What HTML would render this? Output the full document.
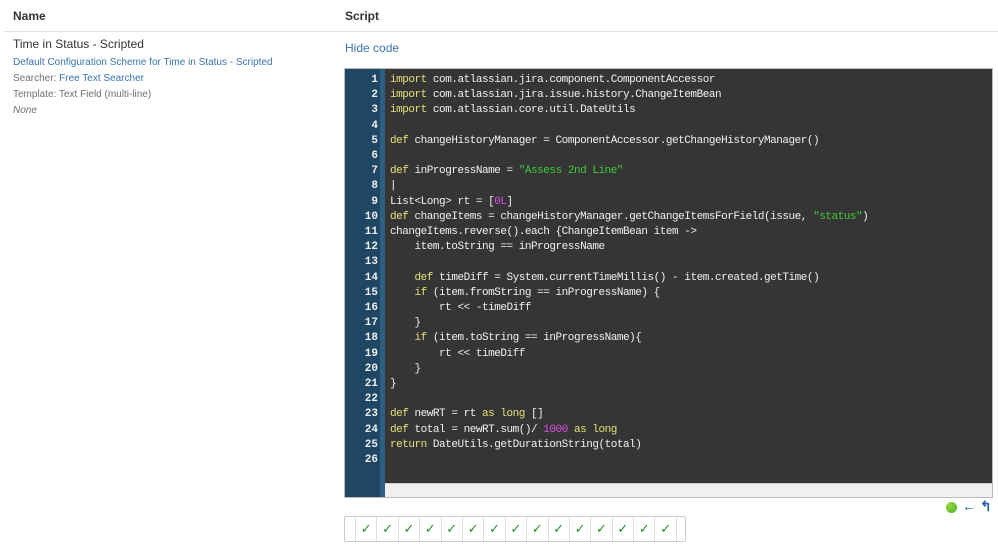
<!DOCTYPE html>
<html><head><style>
body{margin:0;width:998px;height:548px;background:#fff;font-family:"Liberation Sans",Arial,sans-serif;position:relative;overflow:hidden}
.a{position:absolute}
.hd{font-weight:bold;font-size:12px;color:#333;top:9px}
.code{left:344px;top:68px;width:649px;height:430px;background:#353535;border:1px solid #bbb;box-sizing:border-box}
.gut{left:0;top:0;width:35px;height:100%;background:#1f4662}
.gut2{left:35px;top:0;width:5px;height:100%;background:#2e5f80}
pre{margin:0;font-family:"Liberation Mono",monospace;font-size:11px;letter-spacing:-0.47px;line-height:15.2px}
.ln{left:0;top:4px;width:33px;text-align:right;color:#eee;font-weight:bold;letter-spacing:0}
.tx{left:45px;top:4px;color:#f0f0f0}
.k{color:#e4e07a}.s{color:#3ccd3c}.n{color:#e04fe0}
.sb{left:40px;bottom:0;right:0;height:13px;background:#f0f0f0;border-top:1px solid #ccc}
.chk{left:344px;top:516px;width:342px;height:26px;border:1px solid #ccc;border-radius:2px;box-sizing:border-box;display:flex;padding-left:10px;overflow:hidden}
.chk span{width:21.4px;flex:none;box-sizing:border-box;border-left:1px solid #ddd;color:#2a8a2a;font-size:13px;text-align:center;line-height:24px}
.chk span.e{flex:1}
</style></head><body>
<div class="a hd" style="left:13px">Name</div>
<div class="a hd" style="left:345px">Script</div>
<div class="a" style="left:5px;top:31px;width:993px;height:1px;background:#ddd"></div>
<div class="a" style="left:13px;top:37px;font-size:12px;color:#333">Time in Status - Scripted</div>
<div class="a" style="left:13px;top:57px;font-size:10px;color:#3b73af">Default Configuration Scheme for Time in Status - Scripted</div>
<div class="a" style="left:13px;top:73px;font-size:10px;color:#707070">Searcher: <span style="color:#3b73af">Free Text Searcher</span></div>
<div class="a" style="left:13px;top:89px;font-size:10px;color:#707070">Template: Text Field (multi-line)</div>
<div class="a" style="left:13px;top:105px;font-size:10px;color:#707070;font-style:italic">None</div>
<div class="a" style="left:345px;top:41px;font-size:12px;color:#3b73af">Hide code</div>
<div class="a code">
<div class="a gut"></div><div class="a gut2"></div>
<pre class="a ln">1
2
3
4
5
6
7
8
9
10
11
12
13
14
15
16
17
18
19
20
21
22
23
24
25
26</pre>
<pre class="a tx"><span class="k">import</span> com.atlassian.jira.component.ComponentAccessor
<span class="k">import</span> com.atlassian.jira.issue.history.ChangeItemBean
<span class="k">import</span> com.atlassian.core.util.DateUtils

<span class="k">def</span> changeHistoryManager = ComponentAccessor.getChangeHistoryManager()

<span class="k">def</span> inProgressName = <span class="s">"Assess 2nd Line"</span>
|
List&lt;Long&gt; rt = [<span class="n">0L</span>]
<span class="k">def</span> changeItems = changeHistoryManager.getChangeItemsForField(issue, <span class="s">"status"</span>)
changeItems.reverse().each {ChangeItemBean item -&gt;
    item.toString == inProgressName

    <span class="k">def</span> timeDiff = System.currentTimeMillis() - item.created.getTime()
    <span class="k">if</span> (item.fromString == inProgressName) {
        rt &lt;&lt; -timeDiff
    }
    <span class="k">if</span> (item.toString == inProgressName){
        rt &lt;&lt; timeDiff
    }
}

<span class="k">def</span> newRT = rt <span class="k">as</span> <span class="k">long</span> []
<span class="k">def</span> total = newRT.sum()/ <span class="n">1000</span> <span class="k">as</span> <span class="k">long</span>
<span class="k">return</span> DateUtils.getDurationString(total)
</pre>
<div class="a sb"></div>
</div>
<div class="a" style="left:946px;top:502px;width:11px;height:11px;border-radius:50%;background:radial-gradient(circle at 35% 35%,#9d4,#4a2)"></div>
<div class="a" style="left:962px;top:498px;color:#2d64a8;font-size:14px;font-weight:bold">←</div>
<div class="a" style="left:980px;top:498px;color:#2d64a8;font-size:14px;font-weight:bold">↰</div>
<div class="a chk"><span>✓</span><span>✓</span><span>✓</span><span>✓</span><span>✓</span><span>✓</span><span>✓</span><span>✓</span><span>✓</span><span>✓</span><span>✓</span><span>✓</span><span>✓</span><span>✓</span><span>✓</span><span class="e"></span></div>
</body></html>
